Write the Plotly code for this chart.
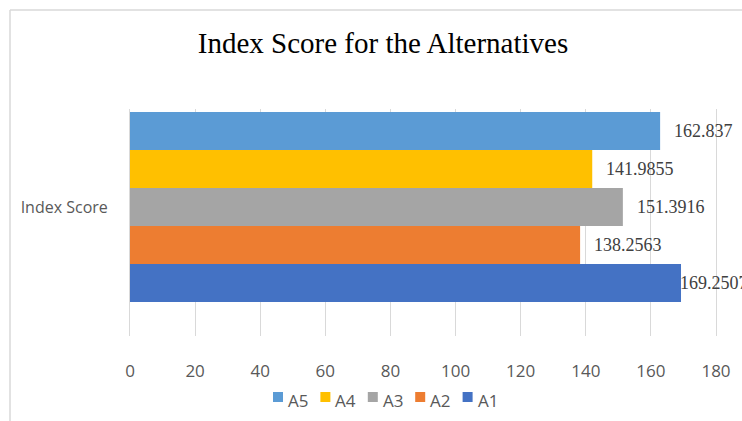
import plotly.graph_objects as go

category = ["Index Score"]
series_names = ["A1", "A2", "A3", "A4", "A5"]
series_values = [169.2507, 138.2563, 151.3916, 141.9855, 162.837]
series_labels = ["169.2507", "138.2563", "151.3916", "141.9855", "162.837"]
colors = ["#4472C4", "#ED7D31", "#A5A5A5", "#FFC000", "#5B9BD5"]
x_ticks = [0, 20, 40, 60, 80, 100, 120, 140, 160, 180]

W, H = 742, 421
L, R, T, B = 130, 26, 109, 85
pw, ph = W - L - R, H - T - B
BARGAP = 0.163
n = len(series_names)
bar_w = (1 - BARGAP) / n


def px2x(p):
    return (p - L) / pw


def px2y(p):
    return (H - B - p) / ph


fig = go.Figure()
annotations = []
for i, (name, v, lab, c) in enumerate(zip(series_names, series_values, series_labels, colors)):
    fig.add_trace(go.Bar(
        y=category, x=[v], name=name, orientation="h",
        marker=dict(color=c, line=dict(width=0)),
        showlegend=False,
    ))
    # value label just after the bar end (largest value pulled in, as in the source)
    shift = -3 if v == max(series_values) else 12
    annotations.append(dict(
        x=v, y=(i - (n - 1) / 2) * bar_w, xref="x", yref="y",
        text=lab, showarrow=False, xanchor="left", yanchor="middle", xshift=shift,
        font=dict(family="Liberation Serif", size=18, color="#404040"),
    ))

# custom legend (reversed order, compact Excel style)
shapes = [
    dict(type="line", xref="paper", yref="paper", x0=px2x(10), x1=px2x(10),
         y0=px2y(10), y1=px2y(H), line=dict(color="#D9D9D9", width=1.5)),
    dict(type="line", xref="paper", yref="paper", x0=px2x(10), x1=px2x(W),
         y0=px2y(10), y1=px2y(10), line=dict(color="#D9D9D9", width=1.5)),
]
leg_x0, leg_step, leg_y = 273, 47.4, 397
for k, idx in enumerate(reversed(range(n))):
    mx = leg_x0 + k * leg_step
    shapes.append(dict(type="rect", xref="paper", yref="paper",
                       x0=px2x(mx), x1=px2x(mx + 10), y0=px2y(leg_y - 5), y1=px2y(leg_y + 5),
                       fillcolor=colors[idx], line=dict(width=0)))
    annotations.append(dict(x=px2x(mx + 13), y=px2y(leg_y + 3), xref="paper", yref="paper",
                            text=series_names[idx], showarrow=False, xanchor="left", yanchor="middle",
                            font=dict(family="Open Sans", size=17, color="#595959")))

fig.update_layout(
    width=W, height=H,
    margin=dict(l=L, r=R, t=T, b=B),
    paper_bgcolor="white", plot_bgcolor="white",
    barmode="group", bargap=BARGAP, bargroupgap=0,
    title=dict(text="Index Score for the Alternatives", x=383 / W, xanchor="center",
               y=1 - 43 / H, yanchor="middle",
               font=dict(family="Liberation Serif", size=29, color="#000000")),
    xaxis=dict(range=[0, 180], tickvals=x_ticks, showgrid=True, gridcolor="#D9D9D9",
               gridwidth=1, zeroline=False, showline=False,
               ticks="outside", ticklen=20, tickcolor="rgba(0,0,0,0)",
               tickfont=dict(family="Open Sans", size=17, color="#595959")),
    yaxis=dict(range=[-(1 - 0.4317), 0.4317], showgrid=False, zeroline=False,
               showline=True, mirror=True, linecolor="#D9D9D9", linewidth=1,
               ticks="outside", ticklen=18, tickcolor="rgba(0,0,0,0)",
               tickfont=dict(family="Open Sans", size=16, color="#595959")),
    showlegend=False,
    shapes=shapes,
    annotations=annotations,
)

fig.write_html("out.html", config={"displayModeBar": False},
               post_script="document.body.style.margin='0';document.body.style.overflow='hidden';")
